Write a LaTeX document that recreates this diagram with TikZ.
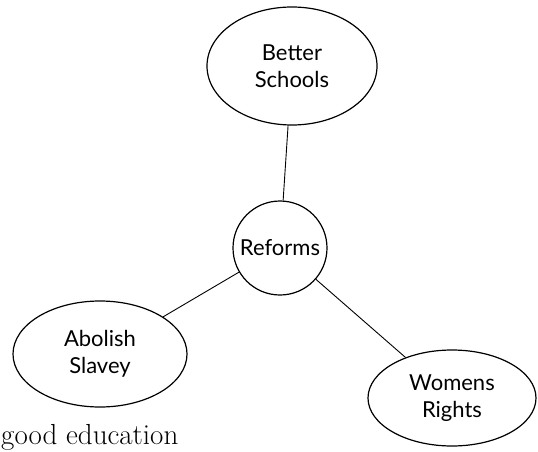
\documentclass[tikz,border=0pt]{standalone}
\usepackage{fontspec}
\usepackage{tikz}
\usetikzlibrary{shapes.geometric}
\newfontfamily\handfont{Lato}
\tikzset{
  topic/.style = {ellipse, draw=black, line width=1.2pt, inner sep=0pt,
                  align=center, font=\handfont\fontsize{22}{27}\selectfont},
  hub/.style   = {topic, circle, minimum size=94pt},
  link/.style  = {line width=0.9pt, draw=black},
}

\begin{document}
\begin{tikzpicture}[x=1pt, y=-1pt]
        \useasboundingbox (0,0) rectangle (538,452);
        \node[hub]                                       (ref) at (280,248) {Reforms};
        \node[topic, minimum width=170pt, minimum height=118pt] (sch) at (292,66)  {Better\\Schools};
        \node[topic, minimum width=174pt, minimum height=106pt] (sla) at (100,354) {Abolish\\Slavey};
        \node[topic, minimum width=168pt, minimum height=96pt]  (wom) at (452,398) {Womens\\Rights};
        \draw[link] (sch) -- (ref);
        \draw[link] (ref) -- (sla);
        \draw[link] (ref) -- (wom);
        % caption at the lower edge
        \node[anchor=base west, inner sep=0pt, font=\fontsize{29}{34}\selectfont] (cap) at (1,444) {good education};
    \end{tikzpicture}
\end{document}
